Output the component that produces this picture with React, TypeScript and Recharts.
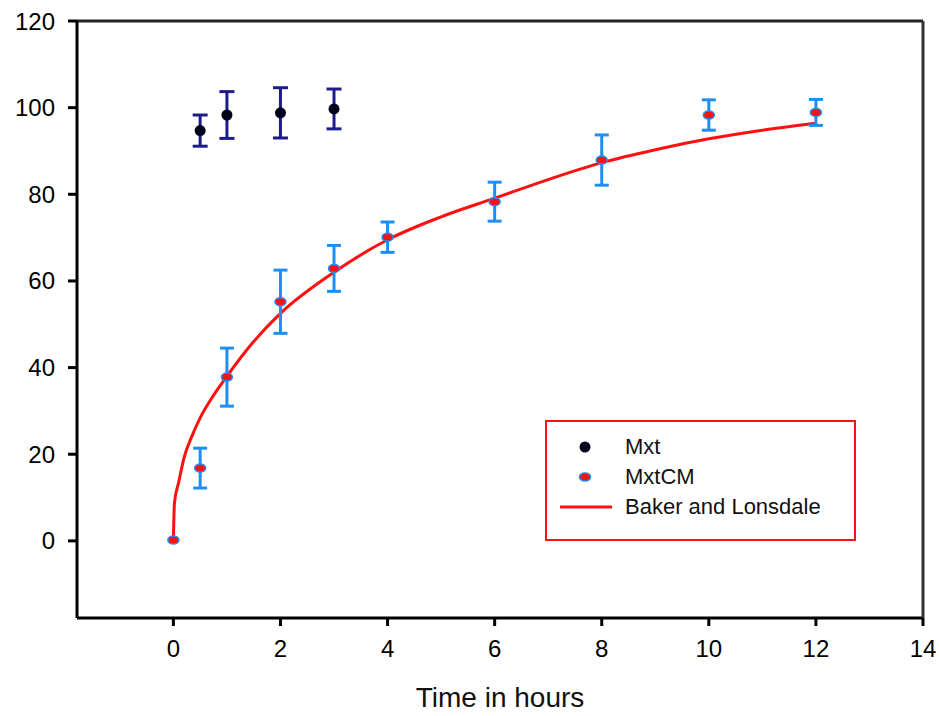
import { ComposedChart, Line, Scatter, ErrorBar, XAxis, YAxis, Legend } from "recharts";

// Mxt: mean release (%) and SD at each sampling time (h)
const mxtTime = [0.5, 1, 2, 3];
const mxtRelease = [94.7, 98.3, 98.8, 99.7];
const mxtError = [3.6, 5.4, 5.8, 4.6];

// MxtCM
const cmTime = [0, 0.5, 1, 2, 3, 4, 6, 8, 10, 12];
const cmRelease = [0.2, 16.8, 37.8, 55.2, 62.9, 70.1, 78.3, 87.9, 98.3, 98.9];
const cmError = [0, 4.6, 6.7, 7.3, 5.3, 3.5, 4.5, 5.8, 3.5, 3];

// Baker and Lonsdale fit
const fitTime = [0, 0.02, 0.1, 0.2, 0.35, 0.5, 0.75, 1, 1.5, 2, 3, 4, 5, 6, 7, 8, 9, 10, 11, 12];
const fitRelease = [0, 8.7, 13.6, 19.2, 24.3, 28.4, 33.6, 38, 46, 52.5, 62, 69.5, 74.8, 79.1, 83.4, 87.3, 90.3, 92.8, 94.8, 96.4];

const xTicks = [0, 2, 4, 6, 8, 10, 12, 14];
const yTicks = [0, 20, 40, 60, 80, 100, 120];

const mxtData = mxtTime.map((x, i) => ({ x, y: mxtRelease[i], err: mxtError[i] }));
const cmData = cmTime.map((x, i) => ({ x, y: cmRelease[i], err: cmError[i] }));
const fitData = fitTime.map((x, i) => ({ x, y: fitRelease[i] }));

const NAVY = "#1c1c8c";
const BLUE = "#1e8ff0";
const RED = "#ff1010";

const MxtDot = (props: any) => <circle cx={props.cx} cy={props.cy} r={5.5} fill="#000018" />;
const CmDot = (props: any) => (
  <ellipse cx={props.cx} cy={props.cy} rx={5.5} ry={4} fill={RED} stroke={BLUE} strokeWidth={1.5} />
);

const renderLegend = () => (
  <div
    style={{
      width: 311,
      height: 121,
      border: `2px solid ${RED}`,
      boxSizing: "border-box",
      background: "#fff",
      paddingTop: 10,
      fontSize: 22,
      color: "#111",
    }}
  >
    {[
      { name: "Mxt", kind: "mxt" },
      { name: "MxtCM", kind: "cm" },
      { name: "Baker and Lonsdale", kind: "line" },
    ].map((row) => (
      <div key={row.name} style={{ height: 30, display: "flex", alignItems: "center" }}>
        <svg width={78} height={30}>
          {row.kind === "mxt" && <circle cx={38} cy={15} r={5.5} fill="#000018" />}
          {row.kind === "cm" && <ellipse cx={38} cy={15} rx={5.5} ry={4} fill={RED} stroke={BLUE} strokeWidth={1.5} />}
          {row.kind === "line" && <line x1={13} x2={65} y1={15} y2={15} stroke={RED} strokeWidth={3} />}
        </svg>
        <span>{row.name}</span>
      </div>
    ))}
  </div>
);

export default function App() {
  return (
    <div style={{ position: "absolute", left: 0, top: 0, fontFamily: "'Liberation Sans', Arial, sans-serif" }}>
      <ComposedChart width={940} height={716} margin={{ top: 20, right: 16, bottom: 0, left: 0 }}>
        <XAxis
          xAxisId="b"
          type="number"
          dataKey="x"
          domain={[-1.8, 14]}
          ticks={xTicks}
          allowDataOverflow
          height={98}
          tickSize={8}
          tickMargin={14}
          axisLine={{ stroke: "#000", strokeWidth: 3 }}
          tickLine={{ stroke: "#000", strokeWidth: 3 }}
          tick={{ fill: "#000", fontSize: 24 }}
          label={{ value: "Time in hours", position: "insideBottom", offset: 9, fontSize: 28, fill: "#111" }}
        />
        <XAxis
          xAxisId="t"
          orientation="top"
          type="number"
          domain={[-1.8, 14]}
          height={1}
          tick={false}
          tickLine={false}
          axisLine={{ stroke: "#222", strokeWidth: 3 }}
        />
        <YAxis
          yAxisId="l"
          type="number"
          domain={[-17.8, 120]}
          ticks={yTicks}
          allowDataOverflow
          width={77}
          tickSize={9}
          tickMargin={13}
          axisLine={{ stroke: "#000", strokeWidth: 3 }}
          tickLine={{ stroke: "#000", strokeWidth: 3 }}
          tick={{ fill: "#000", fontSize: 24 }}
        />
        <YAxis
          yAxisId="r"
          orientation="right"
          type="number"
          domain={[-17.8, 120]}
          width={1}
          tick={false}
          tickLine={false}
          axisLine={{ stroke: "#333", strokeWidth: 3 }}
        />
        <Line
          xAxisId="b"
          yAxisId="l"
          data={fitData}
          dataKey="y"
          type="monotone"
          stroke={RED}
          strokeWidth={3}
          dot={false}
          isAnimationActive={false}
        />
        <Scatter xAxisId="b" yAxisId="l" data={mxtData} dataKey="y" shape={MxtDot} isAnimationActive={false}>
          <ErrorBar dataKey="err" direction="y" width={7.5} stroke={NAVY} strokeWidth={3} />
        </Scatter>
        <Scatter xAxisId="b" yAxisId="l" data={cmData} dataKey="y" shape={CmDot} isAnimationActive={false}>
          <ErrorBar dataKey="err" direction="y" width={7} stroke={BLUE} strokeWidth={3} />
        </Scatter>
        <Legend
          layout="vertical"
          align="center"
          verticalAlign="middle"
          content={renderLegend}
          wrapperStyle={{ left: 545, top: 420, width: 311, height: 121 }}
        />
      </ComposedChart>
    </div>
  );
}
